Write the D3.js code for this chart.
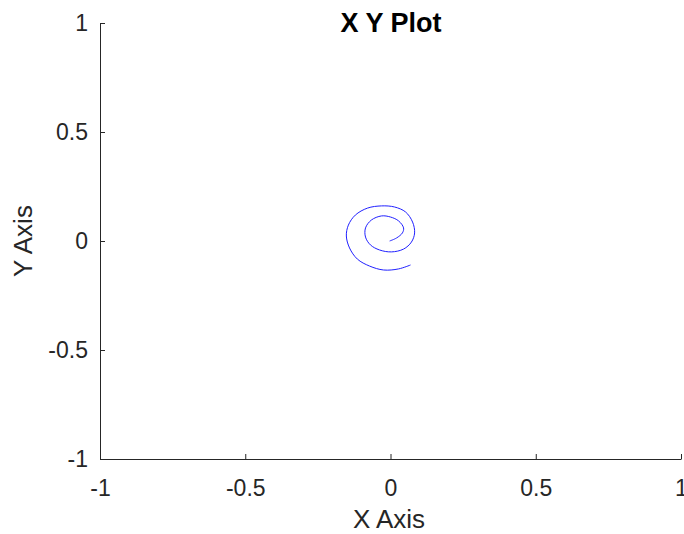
<!DOCTYPE html>
<html>
<head>
<meta charset="utf-8">
<script src="https://cdn.jsdelivr.net/npm/d3@7"></script>
<style>
  body { margin: 0; background: #fff; }
  svg { display: block; }
</style>
</head>
<body>
<svg id="chart" width="684" height="534"></svg>
<script>
// spiral points (x, y in data units)
const spiralX = [-0.003, 0.021, 0.041, 0.045, 0.028, 0.0, -0.031, -0.066, -0.086, -0.086,
                 -0.069, -0.038, 0.003, 0.045, 0.072, 0.083, 0.076, 0.052, 0.014, -0.031,
                 -0.079, -0.121, -0.145, -0.152, -0.141, -0.114, -0.072, -0.024, 0.028, 0.069];
const spiralY = [0.0, 0.014, 0.037, 0.060, 0.092, 0.110, 0.115, 0.096, 0.060, 0.018,
                 -0.018, -0.041, -0.050, -0.037, -0.005, 0.037, 0.087, 0.133, 0.156, 0.161,
                 0.151, 0.119, 0.073, 0.023, -0.032, -0.083, -0.115, -0.133, -0.128, -0.110];
const xTicks = [-1, -0.5, 0, 0.5, 1];
const yTicks = [-1, -0.5, 0, 0.5, 1];

const margin = {left: 100, right: 681, top: 23, bottom: 459};
const axisCol = '#262626';
const font = "'Liberation Sans', Arial, sans-serif";

const svg = d3.select('#chart');

const x = d3.scaleLinear().domain([-1, 1]).range([margin.left, margin.right]);
const y = d3.scaleLinear().domain([-1, 1]).range([margin.bottom, margin.top]);

const fmt = d => String(d);

// x axis
const gx = svg.append('g')
  .attr('transform', `translate(0, ${margin.bottom})`)
  .call(d3.axisBottom(x).tickValues(xTicks).tickFormat(fmt).tickSizeInner(-5).tickSizeOuter(0).tickPadding(21));

// y axis
const gy = svg.append('g')
  .attr('transform', `translate(${margin.left}, 0)`)
  .call(d3.axisLeft(y).tickValues(yTicks).tickFormat(fmt).tickSizeInner(-5).tickSizeOuter(0).tickPadding(12));

[gx, gy].forEach(g => {
  g.select('.domain').attr('stroke', axisCol).attr('stroke-width', 1);
  g.selectAll('.tick line').attr('stroke', axisCol);
  g.selectAll('.tick text')
    .attr('fill', axisCol)
    .style('font-family', font)
    .style('font-size', '23px');
});

// spiral
const pts = spiralX.map((v, i) => [v, spiralY[i]]);
svg.append('path')
  .datum(pts)
  .attr('d', d3.line().x(d => x(d[0])).y(d => y(d[1])).curve(d3.curveCatmullRom))
  .attr('fill', 'none')
  .attr('stroke', '#2020ff')
  .attr('stroke-width', 1);

// title & axis labels
svg.append('text')
  .text('X Y Plot')
  .attr('x', 391)
  .attr('y', 32)
  .attr('text-anchor', 'middle')
  .attr('fill', '#000')
  .style('font-family', font)
  .style('font-size', '27px')
  .style('font-weight', 'bold');

svg.append('text')
  .text('X Axis')
  .attr('x', 389)
  .attr('y', 528)
  .attr('text-anchor', 'middle')
  .attr('fill', axisCol)
  .style('font-family', font)
  .style('font-size', '26px');

svg.append('text')
  .text('Y Axis')
  .attr('transform', `translate(32, ${(margin.top + margin.bottom) / 2}) rotate(-90)`)
  .attr('text-anchor', 'middle')
  .attr('fill', axisCol)
  .style('font-family', font)
  .style('font-size', '26px');
</script>
</body>
</html>
